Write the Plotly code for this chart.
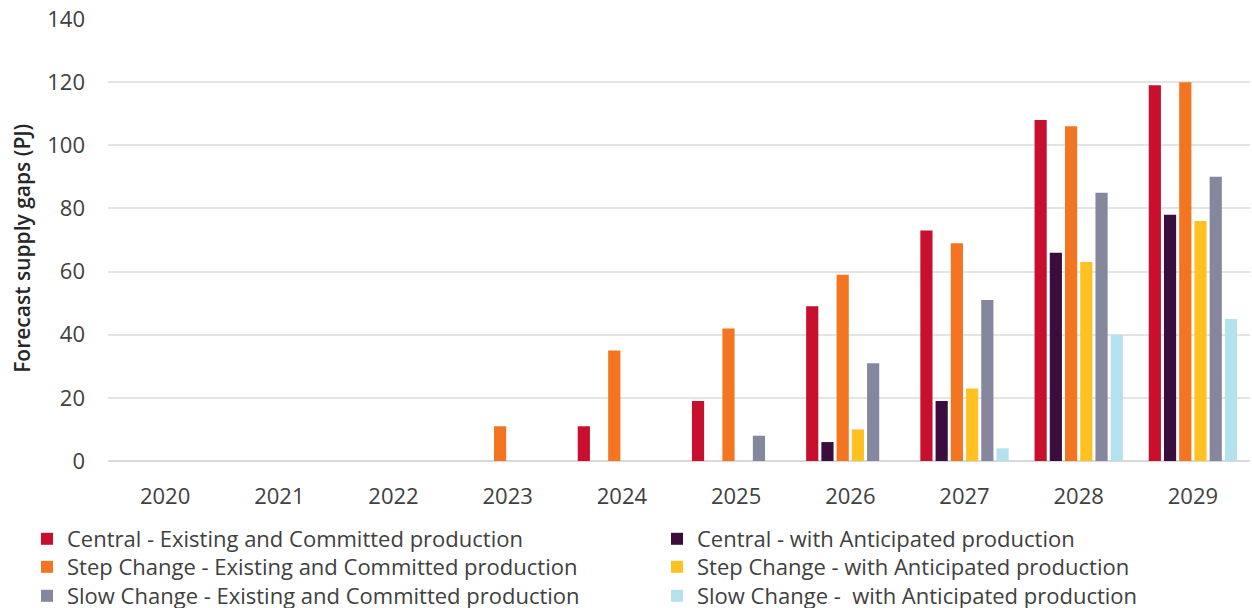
import plotly.graph_objects as go

years = ["2020", "2021", "2022", "2023", "2024", "2025", "2026", "2027", "2028", "2029"]

central_existing = [0, 0, 0, 0, 11, 19, 49, 73, 108, 119]
central_anticipated = [0, 0, 0, 0, 0, 0, 6, 19, 66, 78]
step_existing = [0, 0, 0, 11, 35, 42, 59, 69, 106, 120]
step_anticipated = [0, 0, 0, 0, 0, 0, 10, 23, 63, 76]
slow_existing = [0, 0, 0, 0, 0, 8, 31, 51, 85, 90]
slow_anticipated = [0, 0, 0, 0, 0, 0, 0, 4, 40, 45]

series_names = [
    "Central - Existing and Committed production",
    "Central - with Anticipated production",
    "Step Change - Existing and Committed production",
    "Step Change - with Anticipated production",
    "Slow Change - Existing and Committed production",
    "Slow Change -  with Anticipated production",
]
series_values = [central_existing, central_anticipated, step_existing,
                 step_anticipated, slow_existing, slow_anticipated]
series_colors = ["#C8102E", "#3A0E3C", "#F37421", "#FFC222", "#85879E", "#B3E1EE"]

FONT = "Open Sans"
TEXT = "#404040"
FS = 22
W, H = 1252, 608

# legend grid: two columns, three rows (pixel positions in the page)
col_x = [27, 657]
row_y = [539, 567, 596]

fig = go.Figure()
legend_layouts = {}
for i, (name, vals, color) in enumerate(zip(series_names, series_values, series_colors)):
    key = f"legend{i + 2}"
    fig.add_trace(go.Bar(
        x=years, y=vals, name=name, legend=key,
        marker=dict(color=color, line=dict(width=0)),
    ))
    col, row = i % 2, i // 2
    legend_layouts[key] = dict(
        xref="container", yref="container",
        x=col_x[col] / W, y=1 - row_y[row] / H,
        xanchor="left", yanchor="middle",
        font=dict(family=FONT, size=FS, color=TEXT), itemwidth=30,
        bgcolor="rgba(0,0,0,0)", borderwidth=0,
    )

fig.update_layout(
    width=W, height=H,
    barmode="group", bargap=0.2, bargroupgap=0.2,
    plot_bgcolor="white", paper_bgcolor="white",
    margin=dict(l=108, r=2, t=19, b=147, autoexpand=False),
    font=dict(family=FONT, size=FS, color=TEXT),
    xaxis=dict(
        showgrid=False, showline=False, ticks="",
        tickfont=dict(size=FS, color=TEXT), ticklabelstandoff=20,
    ),
    yaxis=dict(
        range=[0, 140], dtick=20, showgrid=True, gridcolor="#E4E4E4", gridwidth=1.5,
        zeroline=True, zerolinecolor="#D9D9D9", zerolinewidth=2,
        showline=False, ticks="", ticklabelstandoff=22,
        tickfont=dict(size=FS, color=TEXT),
    ),
    annotations=[dict(
        text="Forecast supply gaps (PJ)", textangle=-90,
        xref="paper", yref="paper", x=-86 / 1142, y=0.48,
        xanchor="center", yanchor="middle", showarrow=False,
        font=dict(family=FONT, size=21, color="#262626", weight=600),
    )],
    **legend_layouts,
)

fig.write_html("out.html")
